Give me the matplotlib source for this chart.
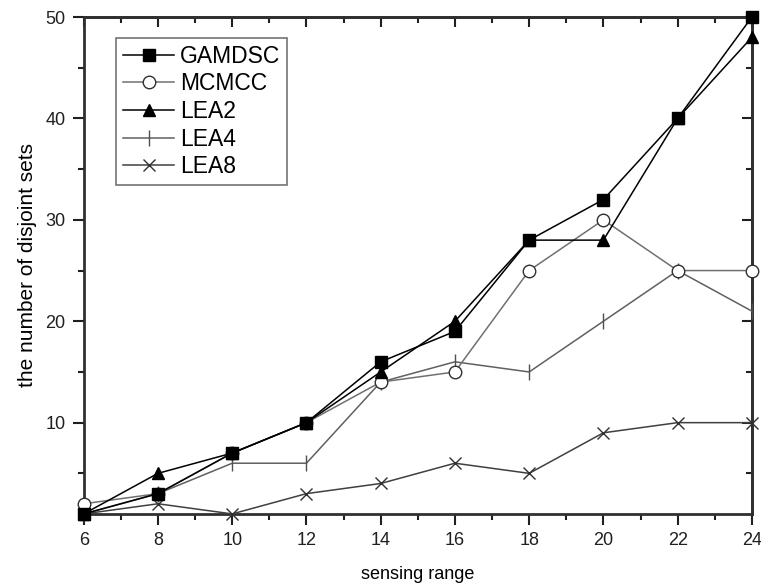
import matplotlib
matplotlib.use("Agg")
import matplotlib.pyplot as plt
from matplotlib.ticker import MultipleLocator

plt.rcParams["font.family"] = ["Liberation Sans", "DejaVu Sans"]

# sensing range vs. number of disjoint sets
sensing_range = [6, 8, 10, 12, 14, 16, 18, 20, 22, 24]
gamdsc = [1, 3, 7, 10, 16, 19, 28, 32, 40, 50]
mcmcc = [2, 3, 7, 10, 14, 15, 25, 30, 25, 25]
lea2 = [1, 5, 7, 10, 15, 20, 28, 28, 40, 48]
lea4 = [1, 3, 6, 6, 14, 16, 15, 20, 25, 21]
lea8 = [1, 2, 1, 3, 4, 6, 5, 9, 10, 10]

fig = plt.figure(figsize=(7.61, 5.88), dpi=100)
ax = fig.add_axes([0.110, 0.126, 0.878, 0.845])

ax.plot(sensing_range, gamdsc, color="black", lw=1.1, marker="s", ms=8,
        mfc="black", mec="black", label="GAMDSC", clip_on=False, zorder=5)
ax.plot(sensing_range, mcmcc, color="#707070", lw=1.1, marker="o", ms=9,
        mfc="white", mec="#303030", mew=1.0, label="MCMCC", clip_on=False, zorder=4)
ax.plot(sensing_range, lea2, color="black", lw=1.1, marker="^", ms=9,
        mfc="black", mec="black", label="LEA2", clip_on=False, zorder=5)
ax.plot(sensing_range, lea4, color="#606060", lw=1.1, marker="|", ms=11,
        mec="#505050", mew=1.0, label="LEA4", clip_on=False, zorder=3)
ax.plot(sensing_range, lea8, color="#404040", lw=1.1, marker="x", ms=9,
        mec="#303030", mew=1.0, label="LEA8", clip_on=False, zorder=3)

ax.set_xlim(6, 24)
ax.set_ylim(1, 50)
ax.xaxis.set_major_locator(MultipleLocator(2))
ax.xaxis.set_minor_locator(MultipleLocator(1))
ax.yaxis.set_minor_locator(MultipleLocator(5))
ax.set_yticks([10, 20, 30, 40, 50])

ax.tick_params(which="both", direction="out", top=False, right=False,
               labelsize=13, colors="#202020", width=1.5)
ax.tick_params(which="major", length=8)
ax.tick_params(which="minor", length=4)
ax.tick_params(axis="x", which="major", pad=5)
ax.tick_params(axis="y", which="major", pad=5)

# mirrored inward ticks on top and right
sec_x = ax.secondary_xaxis("top")
sec_x.xaxis.set_major_locator(MultipleLocator(2))
sec_x.xaxis.set_minor_locator(MultipleLocator(1))
sec_x.tick_params(which="both", direction="in", labeltop=False, width=1.5, colors="#202020")
sec_x.tick_params(which="major", length=7)
sec_x.tick_params(which="minor", length=4)
sec_y = ax.secondary_yaxis("right")
sec_y.yaxis.set_major_locator(MultipleLocator(10))
sec_y.yaxis.set_minor_locator(MultipleLocator(5))
sec_y.tick_params(which="both", direction="in", labelright=False, width=1.5, colors="#202020")
sec_y.tick_params(which="major", length=7)
sec_y.tick_params(which="minor", length=4)

for sp in ax.spines.values():
    sp.set_linewidth(2.0)
    sp.set_color("#303030")
for sp in list(sec_x.spines.values()) + list(sec_y.spines.values()):
    sp.set_linewidth(2.0)
    sp.set_color("#303030")

ax.set_xlabel("sensing range", fontsize=13, labelpad=12)
ax.set_ylabel("the number of disjoint sets", fontsize=15, labelpad=6)

leg = ax.legend(loc="upper left", bbox_to_anchor=(0.049, 0.958), fontsize=16.5,
                frameon=True, fancybox=False, edgecolor="#505050",
                handlelength=2.2, handletextpad=0.28, labelspacing=0.2,
                borderpad=0.3, borderaxespad=0)
leg.get_frame().set_linewidth(1.2)

fig.savefig("out.png", dpi=100)
